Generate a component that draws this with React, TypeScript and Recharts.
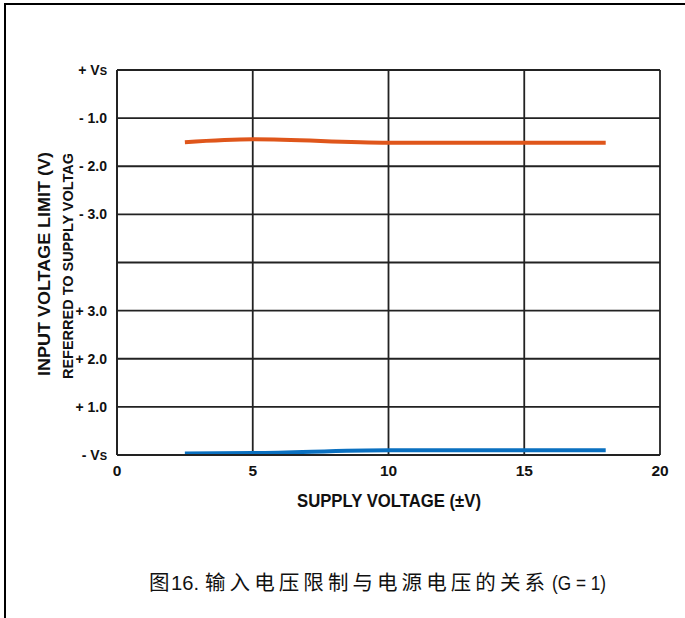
import { LineChart, Line, XAxis, YAxis, CartesianGrid, Label } from 'recharts';

// supply voltage (±V) at which the limits were measured
const supplyVoltage = [2.5, 5, 10, 15, 18];
// upper input limit, volts referred to +Vs
const upperLimitFromPlusVs = [-1.5, -1.44, -1.51, -1.51, -1.51];
// lower input limit, volts referred to -Vs
const lowerLimitFromMinusVs = [0.03, 0.04, 0.1, 0.1, 0.1];

const xTicks = [0, 5, 10, 15, 20];
// split axis: bottom half is measured from -Vs, top half from +Vs
const yTicks = [0, 1, 2, 3, 4, 5, 6, 7, 8];
const yTickLabels = ['- V|s', '+ 1.0', '+ 2.0', '+ 3.0', '', '- 3.0', '- 2.0', '- 1.0', '+ V|s'];

const FONT = '"Liberation Sans", Arial, sans-serif';
const CJK = '"Noto Sans CJK SC", sans-serif';
const TOP_OFFSET = 8; // +Vs sits at the top of the 0..8 axis

const data = supplyVoltage.map((v, i) => ({
  supply: v,
  upper: TOP_OFFSET + upperLimitFromPlusVs[i],
  lower: lowerLimitFromMinusVs[i],
}));

const YTick = ({ x, y, payload }: any) => {
  const label = yTickLabels[payload.index] ?? '';
  const [main, sub] = label.split('|');
  return (
    <g transform={`translate(${x - 2},${y})`}>
      <text x={0} y={0} dy={5} textAnchor="end" fontFamily={FONT} fontWeight="bold" fontSize={14} fill="#111">
        {main}
        {sub && <tspan fontSize={11}>{sub.toUpperCase()}</tspan>}
      </text>
    </g>
  );
};

const XTick = ({ x, y, payload }: any) => (
  <g transform={`translate(${x},${y})`}>
    <text x={0} y={0} dy={13} textAnchor="middle" fontFamily={FONT} fontWeight="bold" fontSize={15.5} fill="#111">
      {payload.value}
    </text>
  </g>
);

const YTitle = () => (
  <g fontFamily={FONT} fontWeight="bold" fill="#111">
    <text
      x={44}
      y={264}
      transform="rotate(-90 44 264)"
      textAnchor="middle"
      dy={6}
      fontSize={17}
      textLength={224}
      lengthAdjust="spacingAndGlyphs"
    >
      INPUT VOLTAGE LIMIT (V)
    </text>
    <text
      x={67}
      y={266}
      transform="rotate(-90 67 266)"
      textAnchor="middle"
      dy={5.5}
      fontSize={15}
      textLength={226}
      lengthAdjust="spacingAndGlyphs"
    >
      REFERRED TO SUPPLY VOLTAG
    </text>
  </g>
);

const XTitle = () => (
  <text
    x={389}
    y={500}
    dy={7}
    textAnchor="middle"
    fontFamily={FONT}
    fontWeight="bold"
    fontSize={18.5}
    fill="#111"
    textLength={184}
    lengthAdjust="spacingAndGlyphs"
  >
    SUPPLY VOLTAGE (±V)
  </text>
);

const Caption = () => (
  <svg width={685} height={618} style={{ position: 'absolute', left: 0, top: 0, pointerEvents: 'none' }}>
    <g fill="#111">
      <text x={149} y={590} fontFamily={CJK} fontSize={20.5}>图</text>
      <text x={171} y={590} fontFamily={FONT} fontSize={19.5} textLength={28} lengthAdjust="spacingAndGlyphs">16.</text>
      <text x={205} y={590} fontFamily={CJK} fontSize={20.5} textLength={340} lengthAdjust="spacing">
        输入电压限制与电源电压的关系
      </text>
      <text x={552} y={590} fontFamily={FONT} fontSize={19.5} textLength={54} lengthAdjust="spacingAndGlyphs">(G = 1)</text>
    </g>
  </svg>
);

export default function App() {
  return (
    <div style={{ position: 'absolute', left: 0, top: 0, width: 685, height: 618, background: '#fff' }}>
      <div style={{ position: 'absolute', left: 4, top: 3, width: 681, height: 615, borderTop: '2px solid #000', borderLeft: '2px solid #000' }} />
      <div style={{ position: 'absolute', left: 0, top: 0 }}>
        <LineChart width={685} height={618} data={data} margin={{ top: 70, right: 25, bottom: 133, left: 57 }}>
          <CartesianGrid stroke="#222" strokeWidth={1.8} horizontalValues={yTicks} verticalValues={xTicks} />
          <XAxis
            dataKey="supply"
            type="number"
            domain={[0, 20]}
            ticks={xTicks}
            height={30}
            axisLine={{ stroke: '#222', strokeWidth: 1.8 }}
            tickLine={false}
            tick={<XTick />}
          >
            <Label content={<XTitle />} />
          </XAxis>
          <YAxis
            type="number"
            domain={[0, 8]}
            ticks={yTicks}
            width={60}
            axisLine={{ stroke: '#222', strokeWidth: 1.8 }}
            tickLine={false}
            tick={<YTick />}
            label={{ content: <YTitle /> }}
          />
          <Line type="monotone" dataKey="upper" stroke="#DF561B" strokeWidth={4} dot={false} isAnimationActive={false} />
          <Line type="monotone" dataKey="lower" stroke="#0A70C0" strokeWidth={4} dot={false} isAnimationActive={false} />
        </LineChart>
      </div>
      <Caption />
    </div>
  );
}
